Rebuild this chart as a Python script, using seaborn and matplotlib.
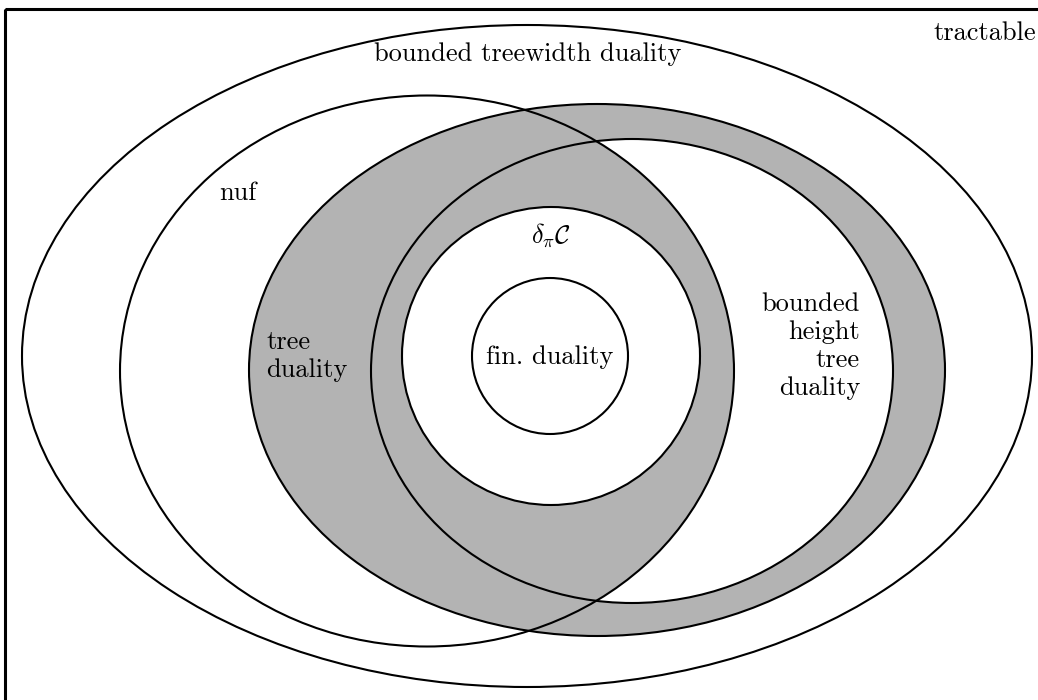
import matplotlib
matplotlib.use("Agg")
import matplotlib.pyplot as plt
from matplotlib.patches import Ellipse, Rectangle
import seaborn as sns

# Sets drawn as ellipses (pixel coordinates, y grows downward)
SET_NAMES = ["bounded treewidth", "nuf", "tree duality", "bounded height", "delta_pi C", "fin. duality"]
CENTER_X = [527, 427, 597, 632, 551, 550]
CENTER_Y = [356, 371, 370, 371, 356, 356]
WIDTH = [1010, 614, 696, 522, 298, 156]
HEIGHT = [662, 551, 532, 464, 298, 156]

LABELS = ["tractable", "bounded treewidth duality", "nuf", "tree\nduality",
          r"$\delta_\pi\mathcal{C}$", "fin. duality", "bounded\nheight\ntree\nduality"]

sns.set_theme(style="white")
plt.rcParams["font.family"] = ["cmr10", "DejaVu Serif"]
plt.rcParams["mathtext.fontset"] = "cm"
plt.rcParams["axes.formatter.use_mathtext"] = True
plt.rcParams["text.color"] = "black"

GRAY = "#b3b3b3"
LW = 1.5

fig = plt.figure(figsize=(10.38, 7.0), dpi=100)
ax = fig.add_axes([0, 0, 1, 1])
ax.set_xlim(0, 1038)
ax.set_ylim(700, 0)
ax.set_axis_off()


def ell(i, **kw):
    return Ellipse((CENTER_X[i], CENTER_Y[i]), WIDTH[i], HEIGHT[i], **kw)


# outer frame
ax.add_patch(Rectangle((5, 9), 1060, 720, fill=False, ec="black", lw=2.2, zorder=5))

# shading: tree duality minus (bounded height outside nuf) minus delta_pi C
ax.add_patch(ell(2, fc=GRAY, ec="none", zorder=1))
ax.add_patch(ell(3, fc="white", ec="none", zorder=2))
clip = ell(3, transform=ax.transData)
nuf_fill = ell(1, fc=GRAY, ec="none", zorder=3)
ax.add_patch(nuf_fill)
nuf_fill.set_clip_path(clip)
ax.add_patch(ell(4, fc="white", ec="none", zorder=4))

# outlines
for i in range(len(SET_NAMES)):
    ax.add_patch(ell(i, fill=False, ec="black", lw=LW, zorder=6))

fs = 19
kw = dict(fontsize=fs, color="black", zorder=7)
ax.text(1036, 33, LABELS[0], ha="right", va="center", **kw)
ax.text(528, 54, LABELS[1], ha="center", va="center", **kw)
ax.text(238, 193, LABELS[2], ha="center", va="center", **kw)
ax.text(266, 356, LABELS[3], ha="left", va="center", linespacing=1.22, **kw)
ax.text(551, 236, LABELS[4], ha="center", va="center", **kw)
ax.text(550, 357, LABELS[5], ha="center", va="center", **kw)
ax.text(860, 346, LABELS[6], ha="right", va="center", linespacing=1.23, **kw)

fig.savefig("out.png", dpi=100)
